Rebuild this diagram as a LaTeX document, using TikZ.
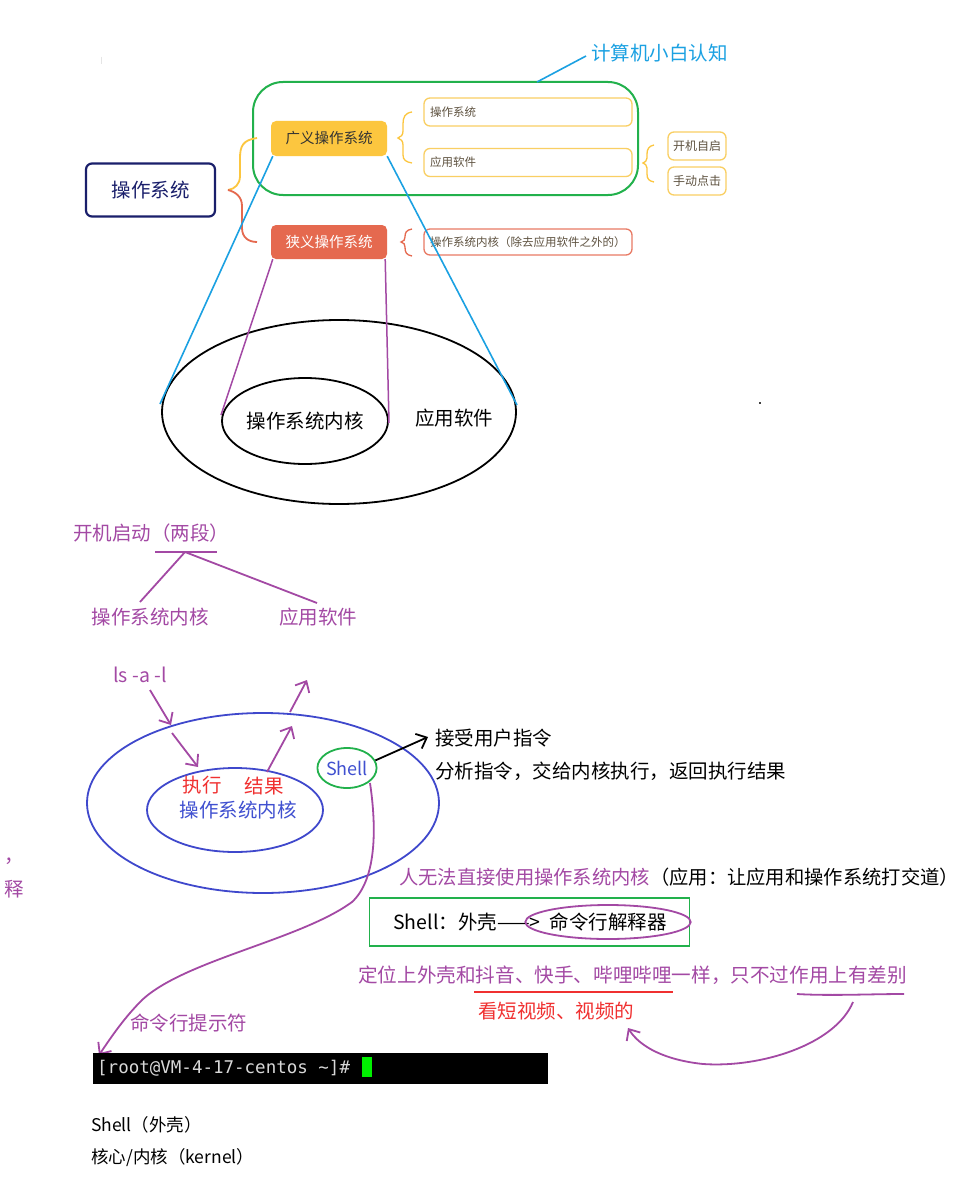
\documentclass[tikz,border=0pt]{standalone}
\usepackage{fontspec}
\setmainfont{Noto Sans CJK SC}
\newfontfamily\monofont{DejaVu Sans Mono}
\usetikzlibrary{shapes.geometric,arrows.meta}
\definecolor{cblue}{HTML}{1BA1E2}
\definecolor{cgreen}{HTML}{22B14C}
\definecolor{cnavy}{HTML}{1A1F6B}
\definecolor{cyel}{HTML}{FCC63F}
\definecolor{cyelline}{HTML}{F9CF63}
\definecolor{csal}{HTML}{E5694F}
\definecolor{csalline}{HTML}{E87A64}
\definecolor{cbrown}{HTML}{5E5240}
\definecolor{cpurple}{HTML}{A349A4}
\definecolor{cred}{HTML}{F03030}
\definecolor{cindigo}{HTML}{3F48CC}
\definecolor{ctblue}{HTML}{4050D0}
\definecolor{cterm}{HTML}{D8D8D8}
\definecolor{ccursor}{HTML}{00F000}
\tikzset{
  txt/.style={inner sep=0pt, anchor=west, font=\fontsize{19.5pt}{21pt}\selectfont},
  ctxt/.style={inner sep=0pt, font=\fontsize{19.5pt}{21pt}\selectfont},
  navybox/.style={draw=cnavy, line width=2.2pt, rounded corners=6pt, minimum width=129pt, minimum height=53pt, inner sep=0pt, text=cnavy, font=\fontsize{19.5pt}{21pt}\selectfont},
  mainbox/.style={rounded corners=5pt, minimum width=116pt, minimum height=35pt, inner sep=0pt, font=\fontsize{14.5pt}{16pt}\selectfont},
  sbox/.style={line width=1.3pt, rounded corners=6pt, minimum height=28pt, text width=196pt, inner xsep=6pt, inner ysep=0pt, align=left, text=cbrown, font=\fontsize{11.5pt}{13pt}\selectfont},
  tbox/.style={draw=cyelline, line width=1.3pt, rounded corners=6pt, minimum height=28pt, minimum width=58pt, inner sep=0pt, text=cbrown, font=\fontsize{12pt}{13pt}\selectfont},
  ell/.style={ellipse, inner sep=0pt},
  blueline/.style={draw=cblue, line width=1.6pt},
  pline/.style={draw=cpurple, line width=1.5pt},
  parrow/.style={draw=cpurple, line width=1.8pt, -{Straight Barb[length=9pt,width=16pt,line width=1.8pt]}},
}
\begin{document}
\begin{tikzpicture}[x=1pt,y=-1pt]
\useasboundingbox (0,0) rectangle (966,1188);
\fill[white] (0,0) rectangle (966,1188);

% ---------- top mind map ----------
\draw[line width=0.6pt, black!10] (101,57) -- (101,64);
\node[txt, text=cblue] (cog) at (591,53) {计算机小白认知};
\node[draw=cgreen, line width=2pt, rounded corners=30pt, minimum width=385pt, minimum height=113pt, inner sep=0pt] (cogn) at (445.5,138.5) {};
\coordinate (cgtop) at (537,82);
\coordinate (cgtxt) at (586,56);
\draw[blueline] (cgtop) -- (cgtxt);

\node[navybox] (os) at (150.5,190) {操作系统};
\node[mainbox, fill=cyel, text=black!80] (broad) at (329,138.5) {广义操作系统};
\node[mainbox, fill=csal, text=white, minimum height=34pt] (narrow) at (329,242) {狭义操作系统};

\node[sbox, draw=cyelline] (b1) at (528,112) {操作系统};
\node[sbox, draw=cyelline] (b2) at (528,162.5) {应用软件};
\node[sbox, draw=csalline, minimum height=26pt] (b3) at (528,242) {操作系统内核（除去应用软件之外的）};
\node[tbox] (t1) at (697,146) {开机自启};
\node[tbox] (t2) at (697,181) {手动点击};

% braces
\draw[cyel, line width=1.8pt] (257,138) .. controls (243,140) and (240,146) .. (240,158) -- (240,176) .. controls (240,184) and (235,189) .. (228,190);
\draw[csal, line width=1.8pt] (228,190) .. controls (236,192) and (242,197) .. (242,206) -- (242,228) .. controls (242,237) and (248,242) .. (257,242);
\draw[cyel, line width=1.3pt] (412,112) .. controls (405,113) and (403,117) .. (403,124) -- (403,131) .. controls (403,135) and (401,137) .. (398,138) .. controls (401,139) and (403,141) .. (403,145) -- (403,155) .. controls (403,160) and (406,162) .. (412,163);
\draw[cyel, line width=1.3pt] (654,145) .. controls (649,146) and (647,149) .. (647,154) -- (647,158) .. controls (647,161) and (645,162) .. (643,163) .. controls (645,164) and (647,165) .. (647,168) -- (647,174) .. controls (647,179) and (649,181) .. (654,182);
\draw[csal, line width=1.3pt] (412,229) .. controls (406,230) and (405,233) .. (405,237) .. controls (405,240) and (404,241) .. (401,242) .. controls (404,243) and (405,244) .. (405,247) .. controls (405,252) and (406,255) .. (412,256);

% top ellipses
\node[ell, draw=black, line width=1.8pt, minimum width=354pt, minimum height=184pt] (appell) at (339,412) {};
\node[ell, draw=black, line width=1.8pt, minimum width=166pt, minimum height=86pt, font=\fontsize{19.5pt}{21pt}\selectfont] (kernell) at (305,421) {\raisebox{-1pt}{操作系统内核}};
\node[ctxt] (apptxt) at (454,418) {应用软件};

\coordinate (bL) at (160,404);
\coordinate (bR) at (517,405);
\coordinate (kL) at (221,415);
\coordinate (kR) at (389,423);
\draw[blueline] ([xshift=2pt]broad.south west) -- (bL);
\draw[blueline] (broad.south east) -- (bR);
\draw[pline] ([xshift=2pt]narrow.south west) -- (kL);
\draw[pline] ([xshift=-2pt]narrow.south east) -- (kR);

\fill[black!75] (758.5,401.5) rectangle (760.5,404);

% ---------- boot ----------
\node[txt, text=cpurple] (boot) at (73,533) {开机启动（两段）};
\coordinate (u1) at (155,552);
\coordinate (u2) at (217,552);
\coordinate (uj) at (185,552);
\draw[pline, line width=1.8pt] (u1) -- (u2);
\node[ctxt, text=cpurple] (kern2) at (150,617) {操作系统内核};
\node[ctxt, text=cpurple] (app2) at (318,617) {应用软件};
\coordinate (e1) at (140,602);
\coordinate (e2) at (317,603);
\draw[pline, line width=1.8pt] (uj) -- (e1);
\draw[pline, line width=1.8pt] (uj) -- (e2);

% ---------- shell diagram ----------
\node[txt, text=cpurple] (ls) at (113,675) {ls -a -l};
\node[ell, draw=cindigo, line width=1.8pt, minimum width=352pt, minimum height=180pt] (outerb) at (263,803) {};
\node[ell, draw=cindigo, line width=1.8pt, minimum width=176pt, minimum height=84pt] (innerb) at (235,810) {};
\node[ctxt, text=cred] (exec) at (202,785) {执行};
\node[ctxt, text=cred] (res) at (264,786) {结果};
\node[ctxt, text=ctblue] (kern3) at (238,810) {操作系统内核};
\node[ell, draw=cgreen, line width=1.8pt, minimum width=59pt, minimum height=40pt, text=ctblue, font=\fontsize{18pt}{20pt}\selectfont] (shell) at (347,768) {Shell};

\coordinate (a1s) at (150,690);
\coordinate (a1e) at (171,725);
\coordinate (a2s) at (172,733);
\coordinate (a2e) at (198,767);
\coordinate (a3s) at (267,772);
\coordinate (a3e) at (292,726);
\coordinate (a4s) at (290,712);
\coordinate (a4e) at (307,680);
\draw[parrow] (a1s) -- (a1e);
\draw[parrow] (a2s) -- (a2e);
\draw[parrow] (a3s) -- (a3e);
\draw[parrow] (a4s) -- (a4e);

\node[txt] (acc) at (435,738) {接受用户指令};
\node[txt] (ana) at (435,771) {分析指令，交给内核执行，返回执行结果};
\coordinate (accarrow) at (428,737);
\draw[line width=1.8pt, -{Straight Barb[length=9pt,width=16pt,line width=1.8pt]}] (shell.15) -- (accarrow);

\node[txt, text=cpurple] (comma) at (4,861) {，};
\node[txt, text=cpurple] (shi) at (4,889) {释};

\node[txt, text=cpurple, font=\fontsize{19.3pt}{21pt}\selectfont] (nowrap) at (399,877) {人无法直接使用操作系统内核\textcolor{black}{（应用：让应用和操作系统打交道）}};
\node[draw=cgreen, line width=1.8pt, minimum width=320pt, minimum height=48pt, inner sep=0pt] (shellbox) at (529.5,922) {};
\node[txt] (shelltxt) at (393,922) {Shell：外壳——>};
\node[ell, draw=cpurple, line width=1.8pt, minimum width=130pt, minimum height=34pt, font=\fontsize{19.5pt}{21pt}\selectfont] (cli) at (608,922) {命令行解释器};

\node[txt, text=cpurple, font=\fontsize{19.6pt}{21pt}\selectfont] (pos) at (358,975) {定位上外壳和抖音、快手、哔哩哔哩一样，只不过作用上有差别};
\coordinate (r1) at (474,992);
\coordinate (r2) at (673,992);
\draw[cred, line width=1.8pt] (r1) -- (r2);
\coordinate (p1) at (797,994);
\coordinate (p2) at (904,994);
\draw[pline, line width=1.8pt] (p1) .. controls (830,996) and (870,994) .. (p2);
\node[txt, text=cred] (video) at (478,1011) {看短视频、视频的};
\coordinate (vs) at (853,1002);
\coordinate (ve) at (628,1028);
\draw[parrow] (vs) .. controls (835,1045) and (760,1068) .. (703,1064) .. controls (665,1060) and (640,1047) .. (ve);

% shell curve to prompt
\coordinate (ps) at (370,783);
\coordinate (pe) at (99,1055);
\draw[parrow] (ps) .. controls (377,830) and (376,880) .. (352,902) .. controls (300,940) and (185,960) .. (142,1000) .. controls (122,1020) and (108,1042) .. (pe);
\node[txt, text=cpurple] (prompt) at (130,1023) {命令行提示符};

% terminal
\node[fill=black, minimum width=455pt, minimum height=31pt, inner sep=0pt, anchor=north west] (term) at (93,1053) {};
\node[inner sep=0pt, anchor=west, text=cterm, font=\monofont\fontsize{17.5pt}{19pt}\selectfont] (termtxt) at (97,1068) {[root@VM-4-17-centos \textasciitilde]\#};
\node[fill=ccursor, minimum width=10pt, minimum height=20pt, inner sep=0pt] (cursor) at (367,1067) {};

\node[txt, font=\fontsize{17.5pt}{19pt}\selectfont] (l1) at (91,1125) {Shell（外壳）};
\node[txt, font=\fontsize{17.5pt}{19pt}\selectfont] (l2) at (91,1158) {核心/内核（kernel）};
\end{tikzpicture}
\end{document}
